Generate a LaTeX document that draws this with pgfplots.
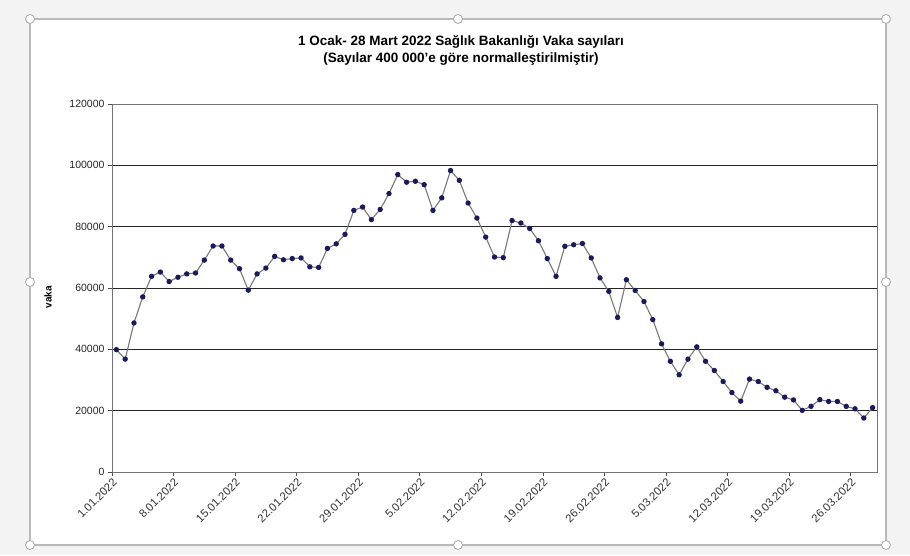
\documentclass[border=0pt]{standalone}
\usepackage{pgfplots}
\pgfplotsset{compat=1.18}
\usepackage{fontspec}
\setmainfont{Liberation Sans}
\definecolor{navyc}{RGB}{25,25,95}
\definecolor{lineg}{RGB}{120,120,120}
\definecolor{bgc}{RGB}{243,243,243}
\definecolor{framec}{RGB}{185,185,185}
\begin{document}
\begin{tikzpicture}
\fill[bgc] (0pt,0pt) rectangle (910pt,555pt);
\useasboundingbox (0pt,0pt) rectangle (910pt,555pt);
\fill[white] (30pt,10pt) rectangle (886pt,536pt);
\draw[framec, line width=1.2pt] (30pt,10pt) rectangle (886pt,536pt);
\foreach \p in {(30pt,536pt),(458pt,536pt),(886pt,536pt),(30pt,273pt),(886pt,273pt),(30pt,10pt),(458pt,10pt),(886pt,10pt)}
  \filldraw[fill=white, draw=gray!70, line width=0.8pt] \p circle (4.5pt);
\node[font=\fontsize{13.5}{17}\selectfont\bfseries, align=center] at (461pt,505pt)
  {1 Ocak- 28 Mart 2022 Sağlık Bakanlığı Vaka sayıları\\(Sayılar 400 000’e göre normalleştirilmiştir)};
\node[font=\fontsize{10}{12}\selectfont\bfseries, rotate=90] at (48pt,258pt) {vaka};
\begin{axis}[
  at={(112pt,83pt)}, anchor=south west,
  scale only axis, width=765pt, height=368pt,
  xmin=-0.5, xmax=86.5, ymin=0, ymax=120000,
  xtick={-0.5,6.5,...,83.5},
  xticklabels={1.01.2022,8.01.2022,15.01.2022,22.01.2022,29.01.2022,5.02.2022,12.02.2022,19.02.2022,26.02.2022,5.03.2022,12.03.2022,19.03.2022,26.03.2022},
  ytick={0,20000,...,120000},
  scaled y ticks=false,
  /pgf/number format/assume math mode=true,
  yticklabel={\pgfmathprintnumber[fixed,1000 sep={}]{\tick}},
  ymajorgrids, grid style={black!85, line width=0.9pt},
  tick pos=left, tick align=outside, major tick length=4pt,
  tick style={black!70, line width=0.7pt},
  axis line style={black!55, line width=0.8pt},
  xticklabel style={rotate=45, anchor=north east, font=\fontsize{11.3}{13}\selectfont, text=black!80, inner sep=1pt},
  yticklabel style={font=\fontsize{10.5}{12}\selectfont, text=black!85},
  clip=false,
]
\addplot[lineg, line width=1.1pt, mark=*, mark size=2.1pt, mark options={fill=navyc, draw=navyc}] table {
0 39900
1 36800
2 48600
3 57100
4 63800
5 65200
6 62100
7 63500
8 64600
9 64900
10 69100
11 73700
12 73700
13 69100
14 66300
15 59300
16 64600
17 66500
18 70300
19 69200
20 69600
21 69800
22 66900
23 66700
24 72900
25 74400
26 77500
27 85300
28 86400
29 82300
30 85600
31 90800
32 97000
33 94500
34 94800
35 93700
36 85300
37 89400
38 98300
39 95100
40 87700
41 82800
42 76600
43 70100
44 69900
45 82000
46 81200
47 79400
48 75400
49 69600
50 63800
51 73600
52 74100
53 74500
54 69800
55 63300
56 58900
57 50400
58 62700
59 59200
60 55600
61 49700
62 41800
63 36100
64 31700
65 36800
66 40800
67 36100
68 33100
69 29500
70 25900
71 23100
72 30300
73 29500
74 27600
75 26500
76 24400
77 23500
78 20100
79 21400
80 23600
81 23000
82 23000
83 21400
84 20600
85 17600
86 21000
};
\end{axis}
\end{tikzpicture}
\end{document}
